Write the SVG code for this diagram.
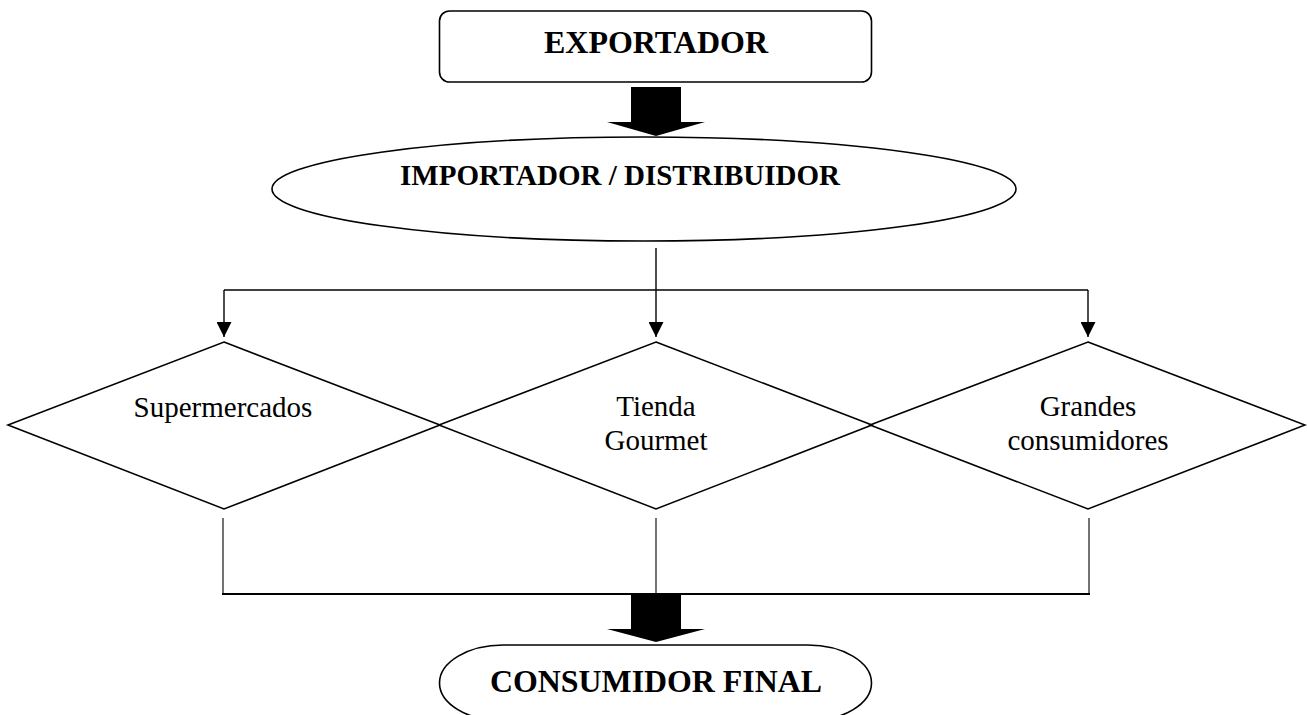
<svg xmlns="http://www.w3.org/2000/svg" width="1307" height="715" viewBox="0 0 1307 715">
<style>
.shape{fill:#fff;stroke:#000;stroke-width:1.6}
.line{fill:none;stroke:#000;stroke-width:1.4}
.thin{fill:none;stroke:#000;stroke-width:1.1}
.big{fill:#000;stroke:none}
.hd{font-family:"Liberation Serif","Times New Roman",serif;font-weight:bold;fill:#000;text-anchor:middle}
.lb{font-family:"Liberation Serif","Times New Roman",serif;font-size:29px;fill:#000;text-anchor:middle}
</style>
<defs>
<marker id="ah" markerWidth="15" markerHeight="15" viewBox="0 0 15 15" refX="15" refY="7.5" orient="auto" markerUnits="userSpaceOnUse">
<path d="M0,0 L15,7.5 L0,15 Z" fill="#000"/>
</marker>
</defs>
<g id="connectors">
<polygon class="big" points="631,87 681,87 681,122 705,122 656,136 607,122 631,122"/>
<line class="line" x1="656" y1="248" x2="656" y2="290"/>
<line class="line" x1="224" y1="290" x2="1088" y2="290"/>
<line class="line" x1="224" y1="290" x2="224" y2="337" marker-end="url(#ah)"/>
<line class="line" x1="656" y1="290" x2="656" y2="337" marker-end="url(#ah)"/>
<line class="line" x1="1088" y1="290" x2="1088" y2="337" marker-end="url(#ah)"/>
<line class="thin" x1="223" y1="518" x2="223" y2="594"/>
<line class="thin" x1="656" y1="518" x2="656" y2="594"/>
<line class="thin" x1="1089" y1="518" x2="1089" y2="594"/>
<line class="line" x1="222" y1="594" x2="1090" y2="594" style="stroke-width:2"/>
<polygon class="big" points="631,595 681,595 681,629 705,629 656,642 607,629 631,629"/>
</g>
<g id="exportador">
<rect class="shape" x="439.5" y="11" width="432" height="71" rx="10" ry="10"/>
<text class="hd" x="656" y="53" font-size="32">EXPORTADOR</text>
</g>
<g id="importador">
<ellipse class="shape" cx="644" cy="189" rx="372" ry="52"/>
<text class="hd" x="620" y="185" font-size="29">IMPORTADOR / DISTRIBUIDOR</text>
</g>
<g id="supermercados">
<polygon class="shape" points="224,342 440,425 224,509 8,425" style="fill:none"/>
<text class="lb" x="223" y="417">Supermercados</text>
</g>
<g id="tienda">
<polygon class="shape" points="656,342 872,425 656,509 439,425" style="fill:none"/>
<text class="lb" x="656" y="416">Tienda</text>
<text class="lb" x="656" y="450">Gourmet</text>
</g>
<g id="grandes">
<polygon class="shape" points="1088,342 1305,425 1088,509 870,425" style="fill:none"/>
<text class="lb" x="1088" y="416">Grandes</text>
<text class="lb" x="1088" y="450">consumidores</text>
</g>
<g id="consumidor">
<rect class="shape" x="439.5" y="645" width="432" height="76" rx="64" ry="38"/>
<text class="hd" x="656" y="692" font-size="31" textLength="332" lengthAdjust="spacingAndGlyphs">CONSUMIDOR FINAL</text>
</g>
</svg>
